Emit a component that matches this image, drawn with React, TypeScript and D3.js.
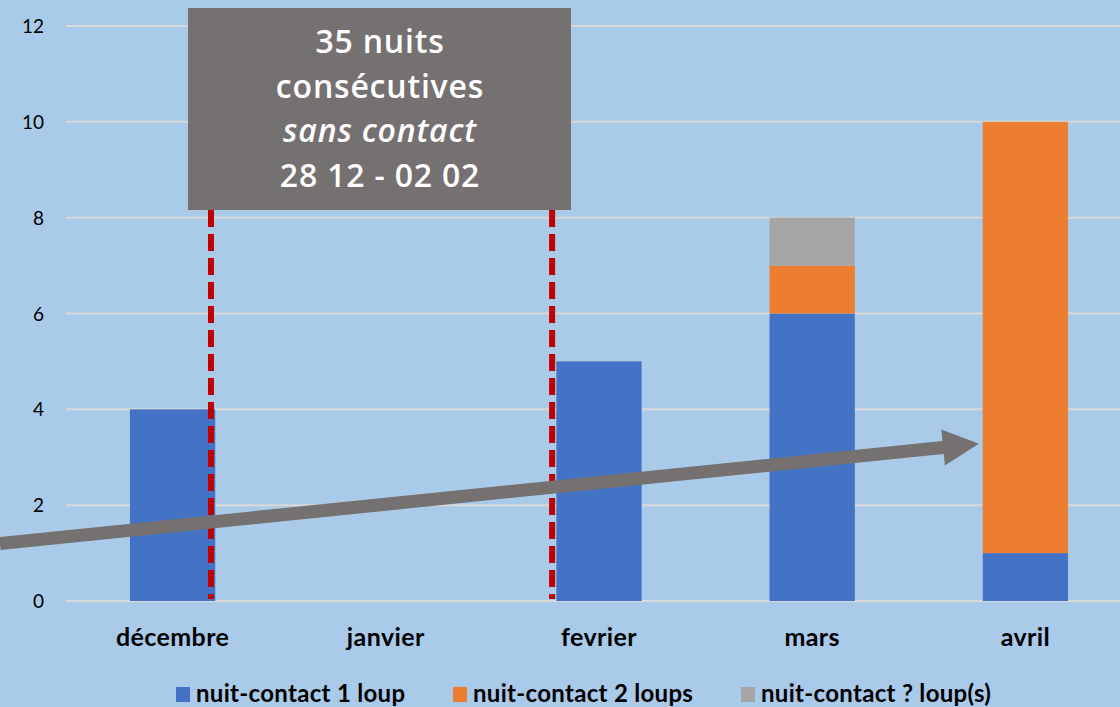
import React from "react";
import * as d3 from "d3";

const categories = ["décembre", "janvier", "fevrier", "mars", "avril"];
const series1Loup = [4, 0, 5, 6, 1];
const series2Loups = [0, 0, 0, 1, 9];
const seriesUnknown = [0, 0, 0, 1, 0];
const seriesNames = ["nuit-contact 1 loup", "nuit-contact 2 loups", "nuit-contact ? loup(s)"];
const seriesColors = ["#4472C4", "#ED7D31", "#A5A5A5"];
const yTicks = [0, 2, 4, 6, 8, 10, 12];
const annotationLines = ["35 nuits", "consécutives", "sans contact", "28 12 - 02 02"];
// dashed markers: positions as fractional category positions (28 Dec, 2 Feb)
const markerPositions = [0.18, 1.78];
// trend arrow in category units / values
const arrowStart = { cat: -0.81, val: 1.2 };
const arrowEnd = { cat: 3.782, val: 3.28 };

const W = 1120;
const H = 707;

export default function App() {
  const x = d3.scaleBand().domain(categories).range([66, 1132]).paddingInner(0.6).paddingOuter(0.3);
  const y = d3.scaleLinear().domain([0, 12]).range([601, 26]);
  const step = x.step();
  const catCenter = (c: number) => x(categories[0])! + x.bandwidth() / 2 + c * step;

  const rows = categories.map((c, i) => ({
    cat: c,
    s0: series1Loup[i],
    s1: series2Loups[i],
    s2: seriesUnknown[i],
  }));
  const stack = d3.stack<any>().keys(["s0", "s1", "s2"])(rows);

  const ax0 = catCenter(arrowStart.cat);
  const ay0 = y(arrowStart.val);
  const ax1 = catCenter(arrowEnd.cat);
  const ay1 = y(arrowEnd.val);
  const ang = Math.atan2(ay1 - ay0, ax1 - ax0);
  const headLen = 36;
  const headHalf = 18;
  const bx = ax1 - headLen * Math.cos(ang);
  const by = ay1 - headLen * Math.sin(ang);
  const px = -Math.sin(ang);
  const py = Math.cos(ang);
  const headPath = d3.path();
  headPath.moveTo(ax1, ay1);
  headPath.lineTo(bx + px * headHalf, by + py * headHalf);
  headPath.lineTo(bx - px * headHalf, by - py * headHalf);
  headPath.closePath();

  const legendX = [176, 453, 741];

  return (
    <svg width={W} height={H} style={{ position: "absolute", left: 0, top: 0, display: "block" }}>
      <rect x={0} y={0} width={W} height={H} fill="#A9CAE9" />
      {yTicks.map((t) => (
        <g key={t}>
          <line x1={66} x2={W} y1={y(t)} y2={y(t)} stroke="#D9D9D9" strokeWidth={2} />
          <text x={44} y={y(t) + 7} textAnchor="end" fontFamily="Lato, 'Open Sans', sans-serif" fontSize={19} fill="#000">
            {t}
          </text>
        </g>
      ))}
      {stack.map((layer, li) =>
        layer.map((d, i) =>
          d[1] - d[0] > 0 ? (
            <rect
              key={`${li}-${i}`}
              x={x(categories[i])}
              width={x.bandwidth()}
              y={y(d[1])}
              height={y(d[0]) - y(d[1])}
              fill={seriesColors[li]}
            />
          ) : null
        )
      )}
      {categories.map((c) => (
        <text
          key={c}
          x={x(c)! + x.bandwidth() / 2}
          y={646}
          textAnchor="middle"
          fontFamily="Lato, 'Open Sans', sans-serif"
          fontWeight="bold"
          fontSize={25}
          letterSpacing={0.4}
          fill="#000"
        >
          {c}
        </text>
      ))}
      {markerPositions.map((m, i) => (
        <line
          key={i}
          x1={catCenter(m)}
          x2={catCenter(m)}
          y1={210}
          y2={599}
          stroke="#C00000"
          strokeWidth={6}
          strokeDasharray="17 7"
        />
      ))}
      <line x1={ax0} y1={ay0} x2={bx + 2 * Math.cos(ang)} y2={by + 2 * Math.sin(ang)} stroke="#767171" strokeWidth={13} />
      <path d={headPath.toString()} fill="#767171" />
      <rect x={188} y={8} width={383} height={202} fill="#767171" />
      {annotationLines.map((l, i) => (
        <text
          key={i}
          x={380}
          y={53 + i * 44.7}
          textAnchor="middle"
          fontFamily="'Open Sans', sans-serif"
          fontWeight={600}
          fontStyle={i === 2 ? "italic" : "normal"}
          fontSize={32}
          letterSpacing={0.8}
          fill="#FFFFFF"
        >
          {l}
        </text>
      ))}
      {seriesNames.map((n, i) => (
        <g key={n}>
          <rect x={legendX[i]} y={687} width={14} height={15} fill={seriesColors[i]} />
          <text x={legendX[i] + 20} y={702} fontFamily="Lato, 'Open Sans', sans-serif" fontWeight="bold" fontSize={24} letterSpacing={0.3} fill="#000">
            {n}
          </text>
        </g>
      ))}
    </svg>
  );
}
